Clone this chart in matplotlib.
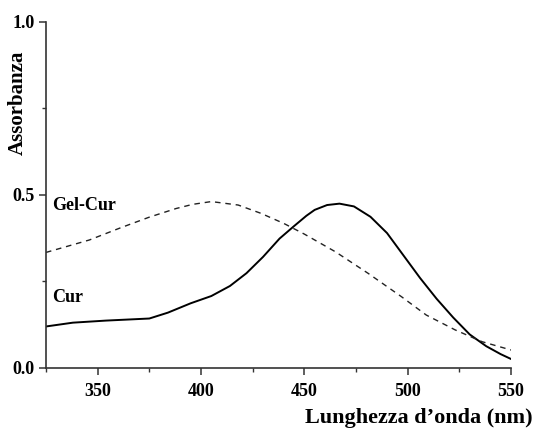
import matplotlib.pyplot as plt
from matplotlib.ticker import MultipleLocator, FormatStrFormatter

# Spettri UV-Vis: curcumina libera e curcumina nel gel
wl_cur = [325, 338, 354, 375, 384, 395, 405, 414, 422, 430, 438, 445, 451,
          455, 461, 467, 474, 482, 490, 498, 506, 514, 522, 530, 538, 545, 550]
abs_cur = [0.120, 0.131, 0.137, 0.143, 0.160, 0.187, 0.208, 0.237, 0.274,
           0.321, 0.374, 0.410, 0.440, 0.457, 0.471, 0.475, 0.467, 0.437,
           0.390, 0.325, 0.260, 0.200, 0.146, 0.097, 0.063, 0.040, 0.026]

wl_gel = [325, 346, 361, 375, 388, 396, 405, 418, 429, 440, 450, 465, 481,
          497, 509, 523, 536, 550]
abs_gel = [0.334, 0.370, 0.405, 0.436, 0.461, 0.473, 0.481, 0.471, 0.447,
           0.418, 0.387, 0.336, 0.273, 0.206, 0.153, 0.110, 0.076, 0.052]

plt.rcParams['font.family'] = ['Liberation Serif', 'DejaVu Serif']
plt.rcParams['font.weight'] = 'bold'

fig = plt.figure(figsize=(5.34, 4.28), dpi=100)
ax = fig.add_axes([0.0861, 0.1402, 0.957 - 0.0861, 0.9486 - 0.1402])

ax.plot(wl_cur, abs_cur, color='black', lw=1.4)
ax.plot(wl_gel, abs_gel, color='#222222', lw=1.0, dashes=(4, 3.5))

ax.set_xlim(325, 550)
ax.set_ylim(0, 1.0)
ax.xaxis.set_major_locator(MultipleLocator(50))
ax.xaxis.set_minor_locator(MultipleLocator(25))
ax.yaxis.set_major_locator(MultipleLocator(0.5))
ax.yaxis.set_minor_locator(MultipleLocator(0.25))
ax.yaxis.set_major_formatter(FormatStrFormatter('%.1f'))

for s in ['top', 'right']:
    ax.spines[s].set_visible(False)
for s in ['left', 'bottom']:
    ax.spines[s].set_linewidth(1.2)
    ax.spines[s].set_color('#333333')

ax.tick_params(which='major', direction='out', length=5, width=1.1,
               labelsize=13, colors='#333333', labelcolor='black')
ax.tick_params(which='minor', direction='out', length=3, width=1.0,
               colors='#333333')
ax.tick_params(axis='x', pad=6)
ax.tick_params(axis='y', pad=3)
for lbl in ax.get_xticklabels() + ax.get_yticklabels():
    lbl.set_fontweight('bold')

ax.text(328, 0.47, 'Gel-Cur', fontsize=13, fontweight='bold', va='center')
ax.text(328, 0.205, 'Cur', fontsize=13, fontweight='bold', va='center')

fig.text(18 / 534, 1 - 103 / 428, 'Assorbanza', rotation=90, fontsize=15,
         fontweight='bold', ha='center', va='center')
fig.text(533 / 534, 1 - 423 / 428, 'Lunghezza d\u2019onda (nm)', fontsize=16,
         fontweight='bold', ha='right', va='baseline')

fig.savefig('out.png', dpi=100)
